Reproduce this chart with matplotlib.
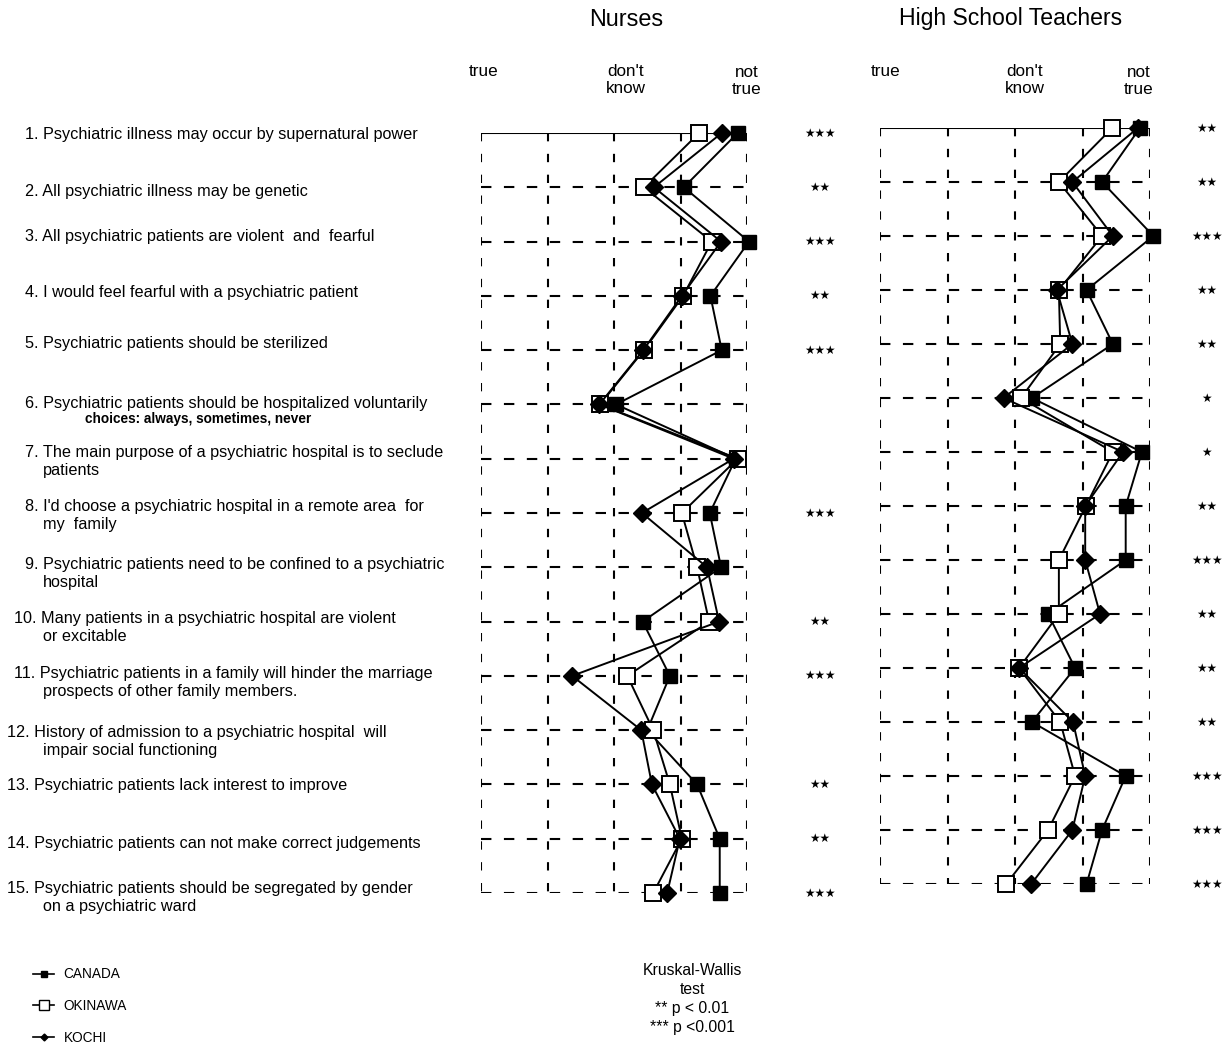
import matplotlib
matplotlib.use("Agg")
import matplotlib.pyplot as plt
from matplotlib.lines import Line2D
from matplotlib import transforms

plt.rcParams['font.family'] = ['Liberation Sans', 'DejaVu Sans']

# scale: 1 = true, 3 = don't know, 5 = not true
rows = list(range(1, 16))

questions = [
    ("1. Psychiatric illness may occur by supernatural power", None),
    ("2. All psychiatric illness may be genetic", None),
    ("3. All psychiatric patients are violent  and  fearful", None),
    ("4. I would feel fearful with a psychiatric patient", None),
    ("5. Psychiatric patients should be sterilized", None),
    ("6. Psychiatric patients should be hospitalized voluntarily", None),
    ("7. The main purpose of a psychiatric hospital is to seclude", "patients"),
    ("8. I'd choose a psychiatric hospital in a remote area  for", "my  family"),
    ("9. Psychiatric patients need to be confined to a psychiatric", "hospital"),
    ("10. Many patients in a psychiatric hospital are violent", "or excitable"),
    ("11. Psychiatric patients in a family will hinder the marriage", "prospects of other family members."),
    ("12. History of admission to a psychiatric hospital  will", "impair social functioning"),
    ("13. Psychiatric patients lack interest to improve", None),
    ("14. Psychiatric patients can not make correct judgements", None),
    ("15. Psychiatric patients should be segregated by gender", "on a psychiatric ward"),
]
q6_note = "choices: always, sometimes, never"

nurses_canada = [4.86, 4.05, 5.03, 4.45, 4.62, 3.03, 4.83, 4.44, 4.61, 3.43, 3.84, 3.50, 4.25, 4.59, 4.59]
nurses_okinawa = [4.28, 3.45, 4.47, 4.04, 3.45, 2.79, 4.86, 4.02, 4.25, 4.43, 3.20, 3.59, 3.84, 4.02, 3.59]
nurses_kochi = [4.62, 3.60, 4.61, 4.02, 3.44, 2.78, 4.80, 3.42, 4.40, 4.58, 2.37, 3.41, 3.57, 3.99, 3.80]
nurses_sig = ["***", "**", "***", "**", "***", "", "", "***", "", "**", "***", "", "**", "**", "***"]

teach_canada = [4.85, 4.29, 5.05, 4.06, 4.45, 3.25, 4.88, 4.64, 4.64, 3.49, 3.89, 3.25, 4.64, 4.29, 4.06]
teach_okinawa = [4.44, 3.65, 4.29, 3.65, 3.67, 3.09, 4.45, 4.05, 3.65, 3.65, 3.06, 3.67, 3.89, 3.49, 2.87]
teach_kochi = [4.82, 3.85, 4.45, 3.62, 3.85, 2.83, 4.60, 4.04, 4.04, 4.26, 3.06, 3.86, 4.04, 3.85, 3.24]
teach_sig = ["**", "**", "***", "**", "**", "*", "*", "**", "***", "**", "**", "**", "***", "***", "***"]

# small vertical nudges (px) of the question labels against their rows
label_up = [-1, -4, 5, 3, 7, 1, 6, 6, 3, 3, 2, -2, -1, -5, 5]

W, H = 1225, 1046
fig = plt.figure(figsize=(W / 100, H / 100), dpi=100)


def px_axes(x0, x1, y0, y1):
    return fig.add_axes([x0 / W, 1 - y1 / H, (x1 - x0) / W, (y1 - y0) / H])


def fx(x):
    return x / W


def fy(y):
    return 1 - y / H


def offset(dy_px):
    return transforms.ScaledTranslation(0, dy_px / 100, fig.dpi_scale_trans)


def draw_panel(ax, canada, okinawa, kochi, sig, star_x):
    ax.set_xlim(1, 5)
    ax.set_ylim(15, 1)
    ax.axis('off')
    ax.hlines(rows[1:], 1, 5, colors='k', linestyles=[(0, (5, 6))], lw=1.5, zorder=1)
    ax.hlines(1, 1, 5, colors='k', lw=1.5, zorder=1)
    ax.vlines([1, 2, 3, 4, 5], 1, 15, colors='k', linestyles=[(0, (4, 6))], lw=1.5, zorder=1)
    ax.plot(canada, rows, color='k', lw=1.4, marker='s', ms=10.5, mfc='k', mec='k',
            clip_on=False, zorder=3)
    ax.plot(okinawa, rows, color='k', lw=1.4, marker='s', ms=11, mfc='white', mec='k',
            mew=1.4, clip_on=False, zorder=4)
    ax.plot(kochi, rows, color='k', lw=1.4, marker='D', ms=9, mfc='k', mec='k',
            clip_on=False, zorder=5)
    for r, s in zip(rows, sig):
        if s:
            ax.text(star_x, r, '\u2605' * len(s), ha='center', va='center', fontsize=8.5,
                    family='DejaVu Sans', clip_on=False)


ax_n = px_axes(481, 747, 133, 893)
ax_t = px_axes(880, 1150, 128, 884)
draw_panel(ax_n, nurses_canada, nurses_okinawa, nurses_kochi, nurses_sig, 6.1)
draw_panel(ax_t, teach_canada, teach_okinawa, teach_kochi, teach_sig, 5.84)

# titles and scale headers
fig.text(fx(626), fy(19), "Nurses", ha='center', va='center', fontsize=16.8)
fig.text(fx(1011), fy(19), "High School Teachers", ha='center', va='center', fontsize=16.6)
for x0, x1, x2 in [(484, 626, 747), (886, 1025, 1139)]:
    fig.text(fx(x0), fy(71), "true", ha='center', va='center', fontsize=12.3)
    fig.text(fx(x1), fy(80), "don't\nknow", ha='center', va='center', fontsize=12.3, linespacing=1.15)
    fig.text(fx(x2), fy(81), "not\ntrue", ha='center', va='center', fontsize=12.3, linespacing=1.15)

# question labels, aligned with the nurses rows
tr = transforms.blended_transform_factory(fig.transFigure, ax_n.transData)
for i, (main, cont) in enumerate(questions):
    r = rows[i]
    if i < 9:
        x0 = 25
    elif i < 11:
        x0 = 14
    else:
        x0 = 7
    up = label_up[i]
    fig.text(fx(x0), r, main, transform=tr + offset(up), ha='left', va='center', fontsize=11.7)
    if cont:
        fig.text(fx(43), r, cont, transform=tr + offset(up - 18), ha='left', va='center',
                 fontsize=11.7)
    if i == 5:
        fig.text(fx(85), r, q6_note, transform=tr + offset(up - 16), ha='left', va='center',
                 fontsize=9.8, fontweight='bold')

# legend
handles = [
    Line2D([], [], color='k', lw=1.2, marker='s', ms=4, mfc='k', mec='k'),
    Line2D([], [], color='k', lw=1.2, marker='s', ms=7, mfc='white', mec='k'),
    Line2D([], [], color='k', lw=1.2, marker='D', ms=3.5, mfc='k', mec='k'),
]
fig.legend(handles, ["CANADA", "OKINAWA", "KOCHI"], loc='upper left',
           bbox_to_anchor=(fx(28), fy(962)), frameon=False, fontsize=9.8,
           labelspacing=1.3, handlelength=1.5, handletextpad=0.7, borderaxespad=0)

fig.text(fx(692), fy(999), "Kruskal-Wallis\ntest\n** p < 0.01\n*** p <0.001",
         ha='center', va='center', fontsize=11.3, linespacing=1.35)

fig.savefig("out.png", dpi=100)
